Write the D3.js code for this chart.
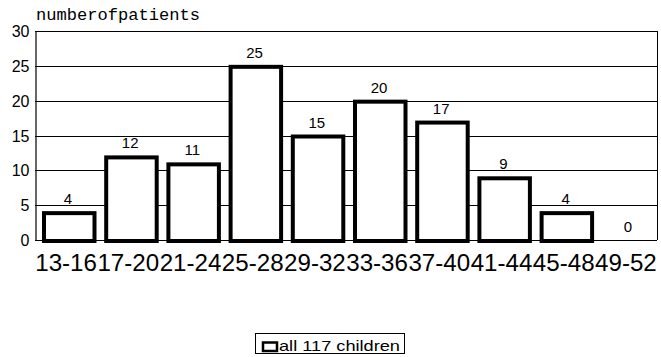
<!DOCTYPE html>
<html><head><meta charset="utf-8">
<script src="https://cdn.jsdelivr.net/npm/d3@7"></script>
<style>body{margin:0;background:#fff}svg{display:block}</style>
</head><body>
<svg id="c" width="661" height="357"></svg>
<script>
const categories = ["13-16","17-20","21-24","25-28","29-32","33-36","37-40","41-44","45-48","49-52"];
const values = [4,12,11,25,15,20,17,9,4,0];
const yTicks = [0,5,10,15,20,25,30];
const yTitle = "numberofpatients";
const legendLabel = "all 117 children";

(function(){
const svg = d3.select("#c");
const mL = 35, mR = 657, mT = 31, mB = 240;
const x = d3.scaleBand().domain(categories).range([mL, mR]).padding(0);
const y = d3.scaleLinear().domain([0,30]).range([mB, mT]);
const bw = x.bandwidth();
const font = "Liberation Sans, Arial, Helvetica, sans-serif";

// gridlines
svg.append("g").selectAll("line").data(yTicks).join("line")
  .attr("x1", mL).attr("x2", mR)
  .attr("y1", d=>Math.round(y(d))+0.5).attr("y2", d=>Math.round(y(d))+0.5)
  .attr("stroke", "#000").attr("stroke-width", 1);
// right border
svg.append("line").attr("x1", mR+0.5).attr("x2", mR+0.5).attr("y1", y(30)).attr("y2", y(0))
  .attr("stroke", "#000").attr("stroke-width", 1);

// y axis
const yAxis = d3.axisLeft(y).tickValues(yTicks).tickSize(0).tickPadding(6);
const gy = svg.append("g").attr("transform", `translate(${mL+0.5},0)`).call(yAxis);
gy.select(".domain").attr("stroke", "#000").attr("stroke-width", 1.2);
gy.selectAll("text").attr("font-family", font).attr("font-size", 16).attr("fill", "#000").attr("dy", "0.35em");

// title
svg.append("text").attr("x", 36).attr("y", 20)
  .attr("font-family", "Liberation Mono, Courier New, monospace").attr("font-size", 16)
  .attr("textLength", 164).attr("lengthAdjust", "spacingAndGlyphs")
  .text(yTitle);

// bars
const sw = 4;
svg.append("g").selectAll("rect").data(values).join("rect")
  .attr("x", (d,i)=>x(categories[i]) + 7 + sw/2)
  .attr("width", 54.5 - sw)
  .attr("y", d=>y(d) + sw/2 - 1)
  .attr("height", d=>Math.max(0, y(0) - y(d)))
  .attr("fill", d=>d>0?"#fff":"none").attr("stroke", d=>d>0?"#000":"none").attr("stroke-width", sw);

// value labels
svg.append("g").selectAll("text").data(values).join("text")
  .attr("x", (d,i)=>x(categories[i]) + 33)
  .attr("y", d=>y(d) - 8)
  .attr("text-anchor", "middle").attr("font-family", font).attr("font-size", 15)
  .text(d=>d);

// x axis labels
const xAxis = d3.axisBottom(x).tickSize(0).tickPadding(0);
const gx = svg.append("g").attr("transform", `translate(0,${mB})`).call(xAxis);
gx.select(".domain").remove();
gx.selectAll("text").attr("font-family", font).attr("font-size", 23).attr("fill", "#000")
  .attr("dy", 0).attr("y", 31)
  .attr("textLength", bw - 0.5).attr("lengthAdjust", "spacingAndGlyphs");

// legend
const lg = svg.append("g");
lg.append("rect").attr("x", 255.5).attr("y", 333.5).attr("width", 149).attr("height", 20)
  .attr("fill", "#fff").attr("stroke", "#000").attr("stroke-width", 1);
lg.append("rect").attr("x", 263).attr("y", 342.5).attr("width", 14).attr("height", 8.5)
  .attr("fill", "#fff").attr("stroke", "#000").attr("stroke-width", 2.5);
lg.append("text").attr("x", 279).attr("y", 351).attr("font-family", font).attr("font-size", 15)
  .attr("textLength", 121).attr("lengthAdjust", "spacingAndGlyphs").text(legendLabel);
})();
</script>
</body></html>
